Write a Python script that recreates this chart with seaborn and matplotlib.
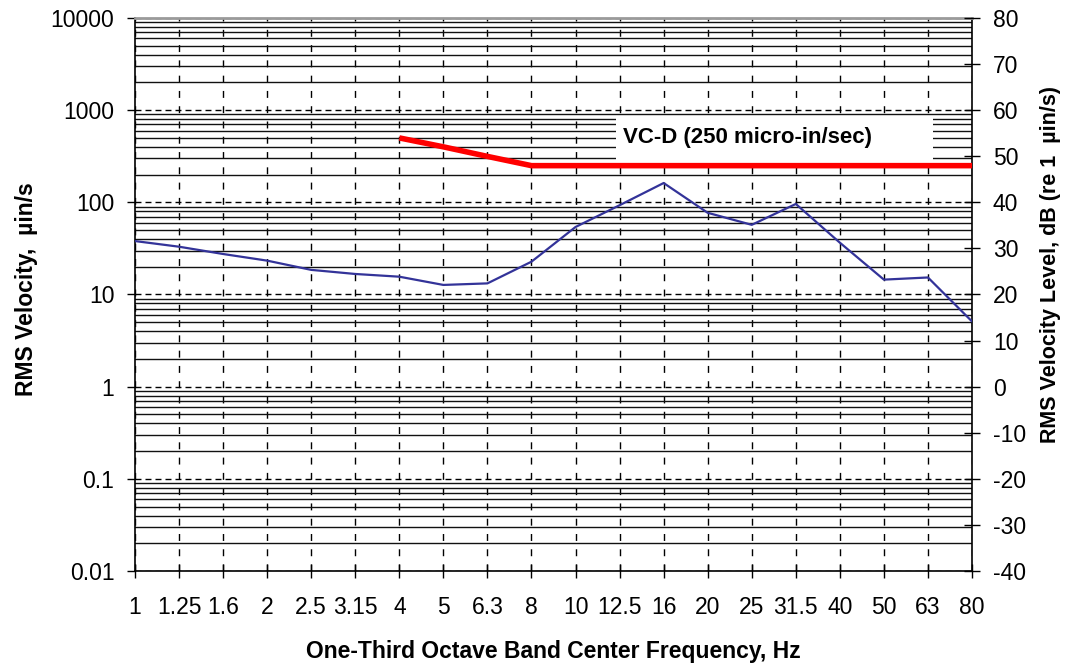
import numpy as np
import pandas as pd
import matplotlib
matplotlib.use("Agg")
import matplotlib.pyplot as plt
import matplotlib.ticker as mticker
from matplotlib.patches import Rectangle
import seaborn as sns

# One-third octave band centre frequencies (Hz)
bands = ["1", "1.25", "1.6", "2", "2.5", "3.15", "4", "5", "6.3", "8",
         "10", "12.5", "16", "20", "25", "31.5", "40", "50", "63", "80"]

# Measured RMS velocity per band (micro-in/s)
velocity = [38, 33, 27.5, 23.3, 18.5, 16.7, 15.6, 12.7, 13.2, 22.7,
            54, 93, 162, 77, 57, 96, 36.5, 14.5, 15.3, 5.1]

# VC-D vibration criterion curve (micro-in/s), defined from 4 Hz upward
criterion_bands = ["4", "5", "6.3", "8", "10", "12.5", "16", "20", "25",
                   "31.5", "40", "50", "63", "80"]
criterion = [500, 400, 315, 250, 250, 250, 250, 250, 250,
             250, 250, 250, 250, 250]
criterion_label = "VC-D (250 micro-in/sec)"

y_ticks = [0.01, 0.1, 1, 10, 100, 1000, 10000]
y_tick_labels = ["0.01", "0.1", "1", "10", "100", "1000", "10000"]
db_ticks = list(range(-40, 81, 10))

sns.set_theme(style="white")
plt.rcParams["font.family"] = ["Liberation Sans", "DejaVu Sans"]
plt.rcParams["axes.unicode_minus"] = False

fig = plt.figure(figsize=(10.73, 6.67), dpi=100)
ax = fig.add_axes([0.12582, 0.14393, 0.78006, 0.82909])

band_pos = {b: i for i, b in enumerate(bands)}
measured = pd.DataFrame({"pos": [band_pos[b] for b in bands], "velocity": velocity})
limit = pd.DataFrame({"pos": [band_pos[b] for b in criterion_bands], "velocity": criterion})

sns.lineplot(data=measured, x="pos", y="velocity", ax=ax, color="#333399",
             linewidth=1.6, zorder=4)
sns.lineplot(data=limit, x="pos", y="velocity", ax=ax, color="#ff0000",
             linewidth=4, zorder=4, solid_capstyle="butt")

ax.set_yscale("log")
ax.set_ylim(y_ticks[0], y_ticks[-1])
ax.set_xlim(0, len(bands) - 1)
ax.set_yticks(y_ticks)
ax.set_yticklabels(y_tick_labels)
ax.yaxis.set_minor_locator(mticker.LogLocator(base=10, subs=np.arange(2, 10)))
ax.yaxis.set_minor_formatter(mticker.NullFormatter())
ax.set_xticks(range(len(bands)))
ax.set_xticklabels(bands)

# Grid: dashed decades and band lines, solid lines at intermediate values
ax.set_axisbelow(True)
ax.yaxis.grid(True, which="major", color="black", linewidth=1.0,
              linestyle=(0, (4.3, 2.9)))
ax.yaxis.grid(True, which="minor", color="#111111", linewidth=1.0, linestyle="-")
ax.xaxis.grid(True, which="major", color="black", linewidth=1.0,
              linestyle=(0, (5, 6)))

ax.tick_params(axis="x", which="major", bottom=True, direction="inout",
               length=10, width=1, pad=13, labelsize=16.5, colors="black")
ax.tick_params(axis="y", which="major", left=True, direction="out",
               length=5.8, width=1, pad=9, labelsize=16.5, colors="black")
ax.tick_params(axis="y", which="minor", left=False, length=0)

for side in ["left", "bottom", "right"]:
    ax.spines[side].set_color("black")
    ax.spines[side].set_linewidth(1.2)
ax.spines["top"].set_color("#9a9a9a")
ax.spines["top"].set_linewidth(2)

# White panel behind the criterion label
ax.add_patch(Rectangle((0.5747, 0.7432), 0.3787, 0.0796, transform=ax.transAxes,
                       facecolor="white", edgecolor="none", zorder=2))
ax.text(0.583, 0.783, criterion_label, transform=ax.transAxes, ha="left",
        va="center", fontsize=16, fontweight="bold", color="black", zorder=5)

ax.set_xlabel("One-Third Octave Band Center Frequency, Hz", fontsize=16.5,
              fontweight="bold", color="black")
ax.set_ylabel("RMS Velocity,  \u00b5in/s", fontsize=16.5, fontweight="bold",
              color="black")
ax.xaxis.set_label_coords(0.5, -0.125)
ax.yaxis.set_label_coords(-0.116, 0.51)

# Secondary axis: velocity level in dB re 1 micro-in/s
ax2 = ax.twinx()
ax2.set_ylim(20 * np.log10(y_ticks[0]), 20 * np.log10(y_ticks[-1]))
ax2.set_yticks(db_ticks)
ax2.set_yticklabels([str(t) for t in db_ticks])
ax2.grid(False)
ax2.tick_params(axis="y", right=True, direction="inout", length=12, width=1,
                pad=9, labelsize=16.5, colors="black")
for side in ax2.spines:
    ax2.spines[side].set_visible(False)
ax2.set_ylabel("RMS Velocity Level, dB (re 1  \u00b5in/s)", fontsize=15.5,
               fontweight="bold", color="black")
ax2.yaxis.set_label_coords(1.081, 0.555)

fig.savefig("out.png", dpi=100, facecolor="white")
